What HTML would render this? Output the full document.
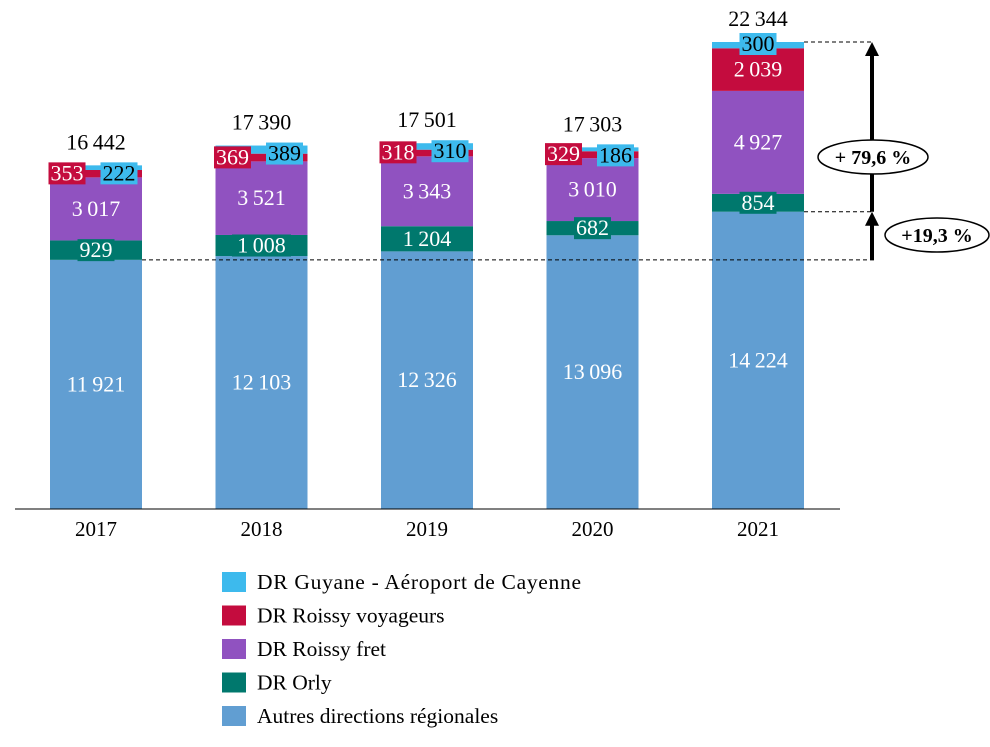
<!DOCTYPE html>
<html><head><meta charset="utf-8"><style>
body{margin:0;background:#fff}
svg text{font-family:"Liberation Serif",serif}
</style></head><body>
<svg id="c" width="990" height="742" xmlns="http://www.w3.org/2000/svg"></svg>
<script>
const years=["2017","2018","2019","2020","2021"];
const autres=[11921,12103,12326,13096,14224];
const orly=[929,1008,1204,682,854];
const fret=[3017,3521,3343,3010,4927];
const voyageurs=[353,369,318,329,2039];
const guyane=[222,389,310,186,300];
const totals=[16442,17390,17501,17303,22344];
const seriesNames=["Autres directions régionales","DR Orly","DR Roissy fret","DR Roissy voyageurs","DR Guyane - Aéroport de Cayenne"];
const series=[autres,orly,fret,voyageurs,guyane];
const colors=["#619ed2","#00786d","#9052c0","#c40c3e","#3dbaed"];
const NS="http://www.w3.org/2000/svg";
const svg=document.getElementById('c');
const base=509,scale=467/22344;
const y=v=>base-v*scale;
const xL=i=>50+i*165.5, bw=92;
function mk(t,a,p){const e=document.createElementNS(NS,t);for(const k in a)e.setAttribute(k,a[k]);(p||svg).appendChild(e);return e;}
const fmt=v=>{const s=String(v);return s.length>3?s.slice(0,-3)+"\u2009"+s.slice(-3):s;};
years.forEach((yr,i)=>{
  const g=mk('g',{});
  
  
  let cum=0;
  series.forEach((s,k)=>{
    const v=s[i];
    const r=mk('rect',{x:xL(i),y:y(cum+v),width:bw,height:v*scale,fill:colors[k]},g);
    
    
    cum+=v;
  });
  let c=0;
  const cx=xL(i)+bw/2;
  series.forEach((s,k)=>{
    const v=s[i];const mid=y(c+v/2);c+=v;
    let lx=cx,ly=mid,box=false,txtCol="#fff";
    if(k===1){box=true;}
    if(k===3&&v*scale<20){lx=xL(i)+17;ly=y(c-v)-4;box=true;}
    if(k===4){box=true;txtCol="#000";if(i<4){lx=xL(i)+69;ly=y(c)+8;}else{ly=y(c)+2;}}
    const t=mk('text',{x:lx,y:ly+7,'text-anchor':'middle','font-size':22,fill:txtCol},g);
    t.textContent=fmt(v);
    
    
    if(box){const w=fmt(v).length*11+4;const b=mk('rect',{x:lx-w/2,y:ly-11,width:w,height:22,fill:colors[k]},g);g.insertBefore(b,t);
      }
  });
  const tt=mk('text',{x:cx,y:y(totals[i])-16,'text-anchor':'middle','font-size':22,fill:'#000'});
  tt.textContent=fmt(totals[i]);
  
  
  const xl=mk('text',{x:cx,y:536,'text-anchor':'middle','font-size':21,fill:'#000'});
  xl.textContent=yr;
  
  
});
const ax=mk('line',{x1:15,x2:840,y1:base,y2:base,stroke:'#000','stroke-width':1});

const y17=y(autres[0]),y21a=y(autres[4]),y21t=y(totals[4]);
[[142,y17,875],[804,y21a,872],[804,y21t,872]].forEach(([a,yy,b])=>{const l=mk('line',{x1:a,x2:b,y1:yy,y2:yy,stroke:'#000','stroke-dasharray':'4,3','stroke-width':1});
});
function arrow(y1,y2){const l=mk('line',{x1:872,x2:872,y1:y1,y2:y2+12,stroke:'#000','stroke-width':4});

const p=mk('polygon',{points:`872,${y2} 865,${y2+14} 879,${y2+14}`,fill:'#000'});
}
arrow(y17,y21a);arrow(y21a,y21t);
function bubble(cx,cy,w,txt){const e=mk('ellipse',{cx,cy,rx:w/2,ry:17,fill:'#fff',stroke:'#000','stroke-width':1.5});

const t=mk('text',{x:cx,y:cy+7,'text-anchor':'middle','font-size':20,'font-weight':'bold'});t.textContent=txt;
}
bubble(873,157,110,"+ 79,6 %");bubble(937,235,104,"+19,3 %");
for(let k=4;k>=0;k--){const row=4-k;const yy=582+row*33.5;
const r=mk('rect',{x:222,y:yy-10,width:24,height:20,fill:colors[k]});

const t=mk('text',{x:257,y:yy+7,'font-size':21.5,textLength:k===4?324:null});t.textContent=seriesNames[k];
if(k!==4)t.removeAttribute('textLength');
}
</script>
</body></html>
